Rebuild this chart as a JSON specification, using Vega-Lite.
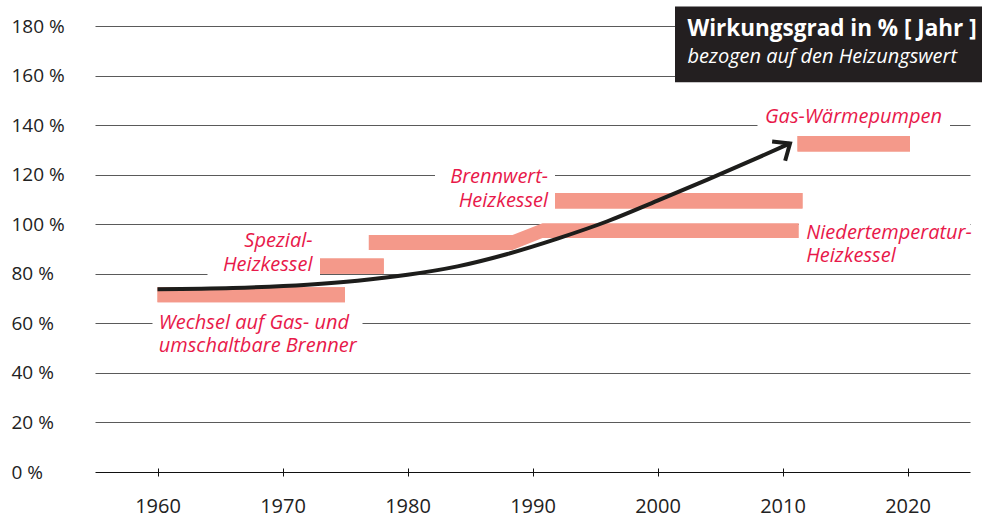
{
  "$schema": "https://vega.github.io/schema/vega-lite/v6.json",
  "width": 875,
  "height": 446,
  "autosize": {"type": "none"},
  "padding": {"left": 95, "top": 26, "right": 12, "bottom": 45},
  "background": "white",
  "config": {
    "view": {"stroke": null},
    "font": "Open Sans"
  },
  "datasets": {
    "bars": [
      {"label": "Wechsel auf Gas- und umschaltbare Brenner", "start": 1960, "end": 1975, "low": 68.5, "high": 74.6},
      {"label": "Spezial-Heizkessel", "start": 1973, "end": 1978.1, "low": 80, "high": 86.2},
      {"label": "Brennwert-Heizkessel", "start": 1991.8, "end": 2011.6, "low": 106.3, "high": 112.6},
      {"label": "Gas-Wärmepumpen", "start": 2011.2, "end": 2020.2, "low": 129.3, "high": 135.6}
    ],
    "niedertemperatur": [
      {"year": 1976.9, "low": 89.6, "high": 95.6},
      {"year": 1988.4, "low": 89.6, "high": 95.6},
      {"year": 1990.8, "low": 94.4, "high": 100.4},
      {"year": 2011.3, "low": 94.4, "high": 100.4}
    ],
    "curve": [
      {"year": 1960, "value": 73.8},
      {"year": 1966, "value": 74.3},
      {"year": 1972, "value": 75.6},
      {"year": 1976, "value": 77.2},
      {"year": 1980, "value": 79.6},
      {"year": 1984, "value": 83.0},
      {"year": 1988, "value": 88.0},
      {"year": 1992, "value": 94.2},
      {"year": 1996, "value": 101.2},
      {"year": 2000, "value": 109.5},
      {"year": 2004, "value": 118.0},
      {"year": 2008, "value": 126.8},
      {"year": 2010.6, "value": 132.6}
    ],
    "labelsLeft": [
      {"text": "Wechsel auf Gas- und\numschaltbare Brenner", "year": 1960.1, "value": 57.7},
      {"text": "Gas-Wärmepumpen", "year": 2008.6, "value": 140.7},
      {"text": "Niedertemperatur-\nHeizkessel", "year": 2011.9, "value": 94.0}
    ],
    "labelsRight": [
      {"text": "Spezial-\nHeizkessel", "year": 1972.4, "value": 90.7},
      {"text": "Brennwert-\nHeizkessel", "year": 1991.25, "value": 116.5}
    ],
    "labelGaps": [
      {"level": 60, "from": 1959.6, "to": 1976.4},
      {"level": 80, "from": 1964.0, "to": 1973.0},
      {"level": 100, "from": 2011.3, "to": 2025},
      {"level": 120, "from": 1982.2, "to": 1991.8},
      {"level": 140, "from": 2008.0, "to": 2023.4}
    ],
    "one": [{}]
  },
  "layer": [
    {
      "data": {"name": "bars"},
      "mark": {"type": "rect", "color": "#F4998A"},
      "encoding": {
        "x": {"field": "start", "type": "quantitative", "title": null,
          "scale": {"domain": [1955, 2025], "nice": false, "zero": false},
          "axis": {
            "values": [1960, 1970, 1980, 1990, 2000, 2010, 2020],
            "format": "d",
            "grid": false,
            "domain": false,
            "offset": -4,
            "tickSize": 8,
            "tickColor": "#111",
            "tickWidth": 1,
            "labelFontSize": 20,
            "labelFont": "Open Sans",
            "labelColor": "#222",
            "labelBaseline": "alphabetic",
            "labelPadding": 36,
            "labelFlush": false
          }},
        "x2": {"field": "end"},
        "y": {"field": "low", "type": "quantitative", "title": null,
          "scale": {"domain": [0, 180], "nice": false},
          "axis": {
            "values": [0, 20, 40, 60, 80, 100, 120, 140, 160, 180],
            "grid": true,
            "gridWidth": 1,
            "gridColor": {"condition": {"test": "datum.value === 0", "value": "#111"}, "value": "#5a5a5a"},
            "domain": false,
            "ticks": false,
            "labelAlign": "left",
            "labelBaseline": "middle",
            "labelPadding": 84,
            "labelFontSize": 19,
            "labelFont": "Open Sans",
            "labelColor": "#222",
            "labelExpr": "datum.value + ' %'"
          }},
        "y2": {"field": "high"}
      }
    },
    {
      "data": {"name": "labelGaps"},
      "mark": {"type": "rule", "color": "white", "strokeWidth": 3},
      "encoding": {
        "x": {"field": "from", "type": "quantitative", "title": null},
        "x2": {"field": "to"},
        "y": {"field": "level", "type": "quantitative", "title": null}
      }
    },
    {
      "data": {"name": "bars"},
      "mark": {"type": "rect", "color": "#F4998A"},
      "encoding": {
        "x": {"field": "start", "type": "quantitative", "title": null},
        "x2": {"field": "end"},
        "y": {"field": "low", "type": "quantitative", "title": null},
        "y2": {"field": "high"}
      }
    },
    {
      "data": {"name": "niedertemperatur"},
      "mark": {"type": "area", "color": "#F4998A", "interpolate": "linear"},
      "encoding": {
        "x": {"field": "year", "type": "quantitative", "title": null},
        "y": {"field": "high", "type": "quantitative", "title": null},
        "y2": {"field": "low"}
      }
    },
    {
      "data": {"name": "curve"},
      "mark": {"type": "line", "color": "#1d1d1b", "strokeWidth": 4, "interpolate": "monotone", "strokeCap": "butt"},
      "encoding": {
        "x": {"field": "year", "type": "quantitative", "title": null},
        "y": {"field": "value", "type": "quantitative", "title": null}
      }
    },
    {
      "data": {"name": "one"},
      "mark": {"type": "point", "shape": "M-1,-0.85L0,0L-1,0.85", "filled": false, "stroke": "#1d1d1b", "strokeWidth": 4, "size": 750, "angle": 326, "opacity": 1, "strokeJoin": "miter"},
      "encoding": {
        "x": {"datum": 2010.6, "type": "quantitative"},
        "y": {"datum": 132.6, "type": "quantitative"}
      }
    },
    {
      "data": {"name": "labelsLeft"},
      "mark": {"type": "text", "align": "left", "baseline": "alphabetic", "lineBreak": "\n", "lineHeight": 22.7, "font": "Open Sans", "fontStyle": "italic", "fontSize": 20, "color": "#E8194A"},
      "encoding": {
        "x": {"field": "year", "type": "quantitative", "title": null},
        "y": {"field": "value", "type": "quantitative", "title": null},
        "text": {"field": "text"}
      }
    },
    {
      "data": {"name": "labelsRight"},
      "mark": {"type": "text", "align": "right", "baseline": "alphabetic", "lineBreak": "\n", "lineHeight": 24, "font": "Open Sans", "fontStyle": "italic", "fontSize": 20, "color": "#E8194A"},
      "encoding": {
        "x": {"field": "year", "type": "quantitative", "title": null},
        "y": {"field": "value", "type": "quantitative", "title": null},
        "text": {"field": "text"}
      }
    },
    {
      "data": {"name": "one"},
      "mark": {"type": "rect", "color": "#231F20"},
      "encoding": {
        "x": {"datum": 2001.4, "type": "quantitative"},
        "x2": {"datum": 2026.1},
        "y": {"datum": 157.3, "type": "quantitative"},
        "y2": {"datum": 187.9}
      }
    },
    {
      "data": {"name": "one"},
      "mark": {"type": "text", "align": "left", "baseline": "alphabetic", "font": "Open Sans", "fontWeight": "bold", "fontSize": 22.5, "color": "white"},
      "encoding": {
        "x": {"datum": 2002.4, "type": "quantitative"},
        "y": {"datum": 176.1, "type": "quantitative"},
        "text": {"value": "Wirkungsgrad in % [ Jahr ]"}
      }
    },
    {
      "data": {"name": "one"},
      "mark": {"type": "text", "align": "left", "baseline": "alphabetic", "font": "Open Sans", "fontStyle": "italic", "fontSize": 20, "color": "white"},
      "encoding": {
        "x": {"datum": 2002.4, "type": "quantitative"},
        "y": {"datum": 164.9, "type": "quantitative"},
        "text": {"value": "bezogen auf den Heizungswert"}
      }
    }
  ]
}
